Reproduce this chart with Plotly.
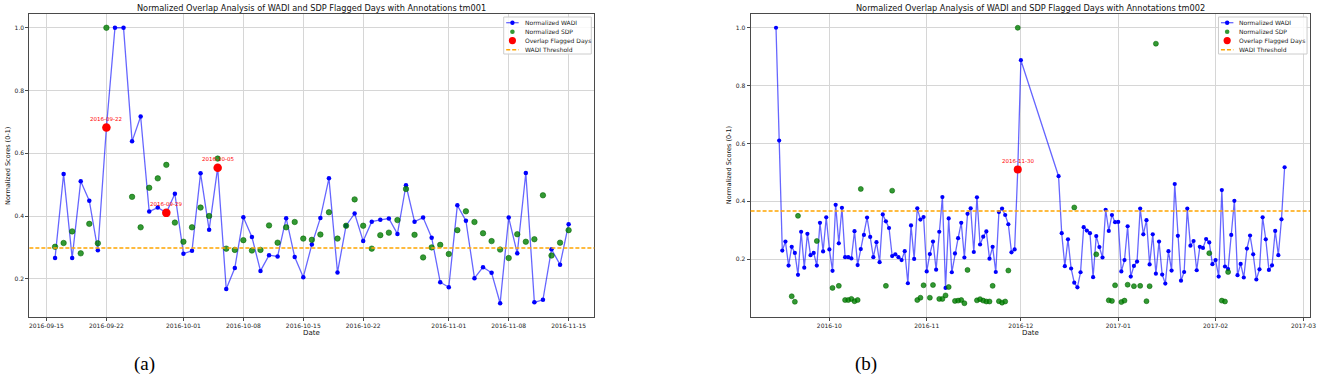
import pandas as pd
import plotly.graph_objects as go

W, H = 1325, 379

# ---------------- Panel (a): tm001 ----------------
A_TITLE = "Normalized Overlap Analysis of WADI and SDP Flagged Days with Annotations tm001"
A_WADI_START = "2016-09-16"
A_WADI = [0.266, 0.534, 0.266, 0.511, 0.449, 0.291, 0.682, 1.0, 1.0, 0.638, 0.717, 0.414, 0.427, 0.410, 0.471,
          0.280, 0.289, 0.536, 0.356, 0.554, 0.167, 0.234, 0.396, 0.333, 0.225, 0.275, 0.271, 0.393, 0.269,
          0.205, 0.309, 0.394, 0.520, 0.220, 0.369, 0.408, 0.320, 0.382, 0.388, 0.392, 0.343, 0.498, 0.382,
          0.395, 0.331, 0.189,
          0.173, 0.434, 0.385, 0.202, 0.237, 0.219, 0.122, 0.395, 0.281, 0.537, 0.125, 0.133, 0.294, 0.245, 0.374]
A_SDP_SEG1_START = "2016-09-16"
A_SDP_SEG1 = [0.302, 0.314, 0.351, 0.281, 0.375, 0.313, 1.0]
A_SDP_SEG2_START = "2016-09-25"
A_SDP_SEG2 = [0.461, 0.364, 0.490, 0.520, 0.563, 0.379,
              0.318, 0.364, 0.427, 0.400, 0.583, 0.296, 0.292, 0.323, 0.290, 0.292, 0.370, 0.315, 0.364, 0.381,
              0.328, 0.324, 0.341, 0.412, 0.328, 0.369, 0.453, 0.369, 0.296, 0.339, 0.347, 0.387, 0.486, 0.340,
              0.268, 0.300, 0.308,
              0.279, 0.355, 0.415, 0.381, 0.345, 0.320, 0.293, 0.266, 0.342, 0.318, 0.326, 0.466, 0.274, 0.315, 0.355]
A_OVERLAP = ["2016-09-22", "2016-09-29", "2016-10-05"]
A_THRESHOLD = 0.298
A_XTICKS = ["2016-09-15", "2016-09-22", "2016-10-01", "2016-10-08", "2016-10-15",
            "2016-10-22", "2016-11-01", "2016-11-08", "2016-11-15"]

# ---------------- Panel (b): tm002 ----------------
B_TITLE = "Normalized Overlap Analysis of WADI and SDP Flagged Days with Annotations tm002"
B_WADI_SEG1_START = "2016-09-14"
B_WADI_SEG1 = [1.0, 0.61, 0.230, 0.261, 0.178, 0.243, 0.222, 0.146, 0.295, 0.171, 0.288, 0.214, 0.222, 0.178,
               0.326, 0.227, 0.345,
               0.234, 0.160, 0.388, 0.255, 0.378, 0.207, 0.207, 0.203, 0.297, 0.180, 0.235, 0.284, 0.344, 0.277,
               0.207, 0.259, 0.190, 0.355, 0.331, 0.308, 0.211, 0.217, 0.207, 0.197, 0.228, 0.117, 0.317, 0.201,
               0.376, 0.337, 0.346,
               0.158, 0.218, 0.261, 0.164, 0.295, 0.415, 0.101, 0.341, 0.155, 0.220, 0.273, 0.326, 0.206, 0.357,
               0.376, 0.225, 0.414, 0.251, 0.278, 0.296, 0.202, 0.243, 0.156, 0.363, 0.375, 0.353, 0.321, 0.224,
               0.234, 0.510,
               0.888]
B_WADI_SEG2_START = "2016-12-13"
B_WADI_SEG2 = [0.487, 0.290, 0.176, 0.269, 0.168, 0.119, 0.103, 0.155, 0.311, 0.299, 0.290, 0.138, 0.280, 0.242,
               0.206, 0.371, 0.298, 0.353, 0.328,
               0.329, 0.158, 0.197, 0.314, 0.140, 0.177, 0.192, 0.375, 0.286, 0.335, 0.182, 0.286, 0.150, 0.261,
               0.147, 0.116, 0.228, 0.161, 0.460, 0.281, 0.126, 0.156, 0.375, 0.247, 0.263, 0.162, 0.243, 0.239,
               0.270, 0.258, 0.183,
               0.197, 0.140, 0.439, 0.175, 0.166, 0.284, 0.402, 0.145, 0.184, 0.137, 0.237, 0.282, 0.217, 0.130,
               0.165, 0.345, 0.269, 0.163, 0.179, 0.298, 0.214, 0.338, 0.518]
B_SDP_DATES = ["2016-09-19", "2016-09-20", "2016-09-21", "2016-09-27", "2016-10-02", "2016-10-04", "2016-10-06",
               "2016-10-07", "2016-10-08", "2016-10-09", "2016-10-10", "2016-10-11", "2016-10-19", "2016-10-21",
               "2016-10-29", "2016-10-30", "2016-10-31", "2016-11-02", "2016-11-03", "2016-11-05", "2016-11-06",
               "2016-11-07", "2016-11-08", "2016-11-10", "2016-11-11", "2016-11-12", "2016-11-13", "2016-11-14",
               "2016-11-17", "2016-11-18", "2016-11-19", "2016-11-20", "2016-11-21", "2016-11-22", "2016-11-24",
               "2016-11-25", "2016-11-26", "2016-11-27", "2016-11-30", "2016-12-18", "2016-12-25", "2016-12-29",
               "2016-12-30", "2016-12-31", "2017-01-02", "2017-01-03", "2017-01-04", "2017-01-06", "2017-01-08",
               "2017-01-10", "2017-01-11", "2017-01-13", "2017-01-30", "2017-02-03", "2017-02-04", "2017-02-05"]
B_SDP = [0.072, 0.053, 0.350, 0.263, 0.101, 0.108, 0.059,
         0.059, 0.063, 0.055, 0.059, 0.443, 0.108, 0.437,
         0.059, 0.067, 0.110, 0.067, 0.111, 0.063, 0.063,
         0.075, 0.104, 0.056, 0.057, 0.059, 0.048, 0.163,
         0.058, 0.062, 0.057, 0.054, 0.054, 0.108, 0.055,
         0.050, 0.054, 0.161, 1.0, 0.379, 0.217, 0.058,
         0.056, 0.110, 0.052, 0.057, 0.112, 0.107, 0.108,
         0.055, 0.107, 0.945, 0.221, 0.057, 0.054, 0.156]
B_OVERLAP = ["2016-11-30"]
B_THRESHOLD = 0.367
B_XTICKS = ["2016-10-01", "2016-11-01", "2016-12-01", "2017-01-01", "2017-02-01", "2017-03-01"]
B_XTICKTEXT = ["2016-10", "2016-11", "2016-12", "2017-01", "2017-02", "2017-03"]

Y_TICKS = [0.2, 0.4, 0.6, 0.8, 1.0]
Y_TICKTEXT = ["0.2", "0.4", "0.6", "0.8", "1.0"]

# ---------------- build series ----------------
def daily(start, vals):
    return pd.Series(vals, index=pd.date_range(start, periods=len(vals), freq="D"))

a_wadi = daily(A_WADI_START, A_WADI)
a_sdp = pd.concat([daily(A_SDP_SEG1_START, A_SDP_SEG1), daily(A_SDP_SEG2_START, A_SDP_SEG2)])
b_wadi = pd.concat([daily(B_WADI_SEG1_START, B_WADI_SEG1), daily(B_WADI_SEG2_START, B_WADI_SEG2)])
b_sdp = pd.Series(B_SDP, index=pd.to_datetime(B_SDP_DATES))

# ---------------- layout geometry (pixels) ----------------
def px(x):
    return x / W

def py(y):
    return 1 - y / H

PANELS = [
    dict(x0=29.5, x1=597, wadi=a_wadi, sdp=a_sdp, overlap=A_OVERLAP, thr=A_THRESHOLD, title=A_TITLE,
         xt=A_XTICKS, xtt=A_XTICKS, bsz=4.5, gsz=5.5, rsz=8.5, label="(a)", labx=145,
         leg_x0=506, leg_x1=594),
    dict(x0=754, x1=1316, wadi=b_wadi, sdp=b_sdp, overlap=B_OVERLAP, thr=B_THRESHOLD, title=B_TITLE,
         xt=B_XTICKS, xtt=B_XTICKTEXT, bsz=4.2, gsz=5, rsz=8, label="(b)", labx=870,
         leg_x0=1224, leg_x1=1313),
]
TOP, BOT = 14, 317

BLUE_LINE = "rgba(0,0,255,0.6)"
BLUE = "#0000ff"
GREEN = "rgba(0,128,0,0.8)"
RED = "#ff0000"
ORANGE = "#ffa500"
GRID = "#d6d6d6"
FRAME = "#4a4a4a"
FONT = "DejaVu Sans"

fig = go.Figure()
annotations = []
shapes = []

for i, p in enumerate(PANELS, start=1):
    xa = "x" if i == 1 else f"x{i}"
    ya = "y" if i == 1 else f"y{i}"
    wadi, sdp = p["wadi"], p["sdp"]

    fig.add_trace(go.Scatter(x=wadi.index, y=wadi.values, mode="lines+markers", xaxis=xa, yaxis=ya,
                             line=dict(color=BLUE_LINE, width=1.3),
                             marker=dict(color=BLUE, size=p["bsz"]), showlegend=False))
    fig.add_trace(go.Scatter(x=sdp.index, y=sdp.values, mode="markers", xaxis=xa, yaxis=ya,
                             marker=dict(color=GREEN, size=p["gsz"], line=dict(width=0.6, color="rgba(0,100,0,0.9)")),
                             showlegend=False))
    ov = pd.to_datetime(p["overlap"])
    fig.add_trace(go.Scatter(x=ov, y=wadi.loc[ov].values, mode="markers", xaxis=xa, yaxis=ya,
                             marker=dict(color=RED, size=p["rsz"]), showlegend=False))
    for d in p["overlap"]:
        annotations.append(dict(x=d, y=float(wadi.loc[pd.Timestamp(d)]), xref=xa, yref=ya, text=d,
                                showarrow=False, yshift=9, font=dict(size=5.5, color=RED, family=FONT)))

    # threshold line
    shapes.append(dict(type="line", xref=f"{xa} domain", yref=ya, x0=0, x1=1, y0=p["thr"], y1=p["thr"],
                       line=dict(color=ORANGE, width=1.6, dash="4px,2px"), layer="above"))

    # axis ranges with 5% margins like matplotlib
    all_dates = wadi.index.union(sdp.index)
    dmin, dmax = all_dates.min(), all_dates.max()
    pad = (dmax - dmin) * 0.05
    all_vals = list(wadi.values) + list(sdp.values)
    vmin, vmax = min(all_vals), max(all_vals)
    vpad = (vmax - vmin) * 0.05

    axis_common = dict(showline=True, mirror=True, linecolor=FRAME, linewidth=1, showgrid=True,
                       gridcolor=GRID, gridwidth=1, zeroline=False, ticks="outside", ticklen=3,
                       tickcolor=FRAME, tickfont=dict(size=6, color="#222", family=FONT),
                       ticklabeloverflow="allow")
    fig.update_layout(**{
        ("xaxis" if i == 1 else f"xaxis{i}"): dict(
            type="date", domain=[px(p["x0"]), px(p["x1"])], anchor=ya,
            range=[dmin - pad, dmax + pad], tickmode="array", tickvals=p["xt"], ticktext=p["xtt"],
            **axis_common),
        ("yaxis" if i == 1 else f"yaxis{i}"): dict(
            domain=[py(BOT), py(TOP)], anchor=xa, range=[vmin - vpad, vmax + vpad],
            tickmode="array", tickvals=Y_TICKS, ticktext=Y_TICKTEXT, **axis_common),
    })

    cx = (p["x0"] + p["x1"]) / 2
    annotations.append(dict(x=px(cx), y=py(8), xref="paper", yref="paper", text=p["title"], showarrow=False,
                            xanchor="center", yanchor="middle", font=dict(size=8.2, color="#111", family=FONT)))
    annotations.append(dict(x=px(cx), y=py(333), xref="paper", yref="paper", text="Date", showarrow=False,
                            xanchor="center", yanchor="middle", font=dict(size=7, color="#111", family=FONT)))
    annotations.append(dict(x=px(p["x0"] - 22), y=py((TOP + BOT) / 2), xref="paper", yref="paper",
                            text="Normalized Scores (0-1)", showarrow=False, textangle=-90,
                            xanchor="center", yanchor="middle", font=dict(size=6.5, color="#111", family=FONT)))
    annotations.append(dict(x=px(p["labx"]), y=py(364), xref="paper", yref="paper", text=p["label"],
                            showarrow=False, xanchor="center", yanchor="middle", borderpad=0,
                            font=dict(size=19, color="#000", family="Liberation Serif")))

    # legend box (drawn manually to match the compact matplotlib legend)
    lx0, lx1 = p["leg_x0"], p["leg_x1"]
    ly0, ly1 = 17, 54
    shapes.append(dict(type="rect", xref="paper", yref="paper", x0=px(lx0), x1=px(lx1), y0=py(ly1), y1=py(ly0),
                       line=dict(color="#cccccc", width=1), fillcolor="rgba(255,255,255,0.85)", layer="above"))
    rows = [22.7, 31.8, 40.6, 49.8]
    sx0, sx1 = lx0 + 2.5, lx0 + 15
    scx = (sx0 + sx1) / 2
    tx = lx0 + 19
    shapes.append(dict(type="line", xref="paper", yref="paper", x0=px(sx0), x1=px(sx1), y0=py(rows[0]), y1=py(rows[0]),
                       line=dict(color=BLUE_LINE, width=1.3), layer="above"))

    def circ(cxp, cyp, r, color):
        return dict(type="circle", xref="paper", yref="paper", x0=px(cxp - r), x1=px(cxp + r),
                    y0=py(cyp + r), y1=py(cyp - r), fillcolor=color, line=dict(width=0), layer="above")
    shapes.append(circ(scx, rows[0], 2.2, BLUE))
    shapes.append(circ(scx, rows[1], 2.3, GREEN))
    shapes.append(circ(scx, rows[2], 3.6, RED))
    shapes.append(dict(type="line", xref="paper", yref="paper", x0=px(sx0), x1=px(sx1), y0=py(rows[3]), y1=py(rows[3]),
                       line=dict(color=ORANGE, width=1.6, dash="4px,2px"), layer="above"))
    for r, t in zip(rows, ["Normalized WADI", "Normalized SDP", "Overlap Flagged Days", "WADI Threshold"]):
        annotations.append(dict(x=px(tx), y=py(r), xref="paper", yref="paper", text=t, showarrow=False,
                                xanchor="left", yanchor="middle", font=dict(size=6, color="#222", family=FONT)))

fig.update_layout(width=W, height=H, autosize=False, margin=dict(l=0, r=0, t=0, b=0),
                  paper_bgcolor="white", plot_bgcolor="white", showlegend=False, hovermode=False,
                  annotations=annotations, shapes=shapes, font=dict(family=FONT))

fig.write_html("out.html", config={"displayModeBar": False, "staticPlot": True},
               post_script="document.body.style.margin='0px';document.body.style.padding='0px';"
                           "document.body.style.overflow='hidden';")
